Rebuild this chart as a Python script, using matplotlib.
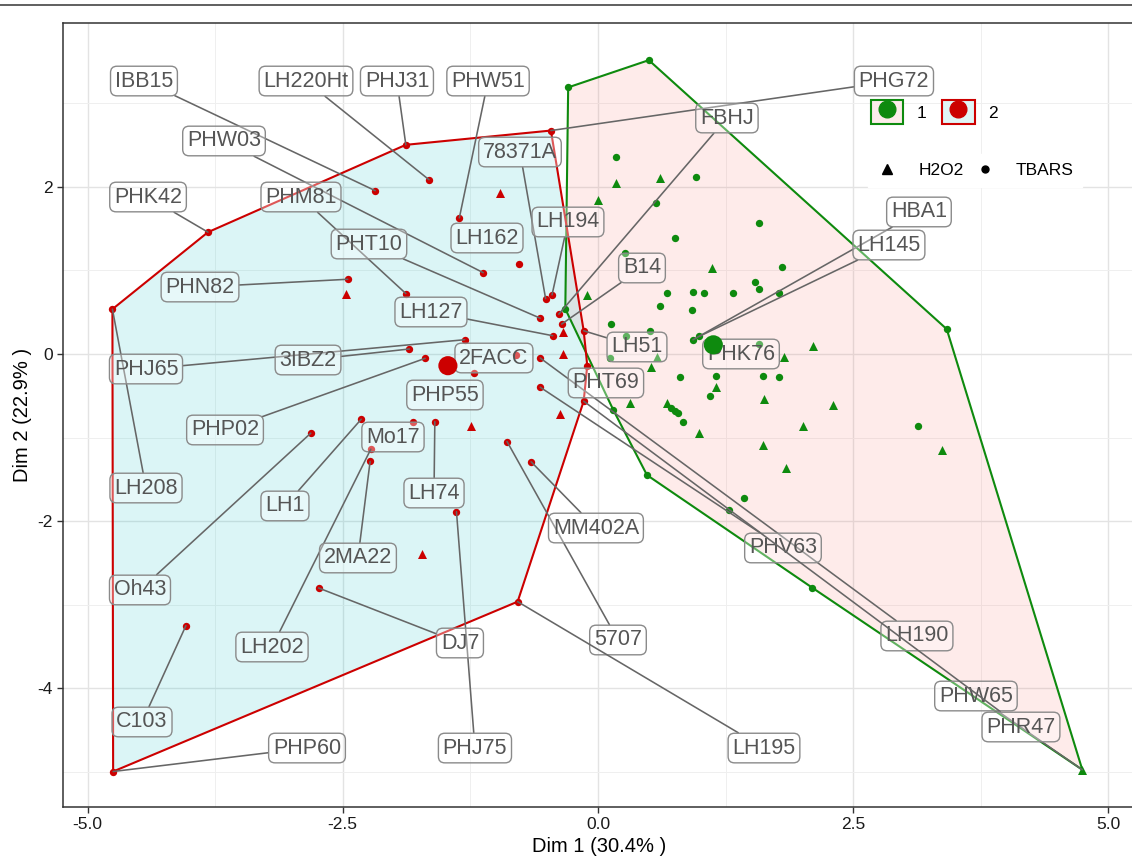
""" PCA biplot of genotypes, two clusters with convex hulls. """

import matplotlib
matplotlib.use("Agg")
import matplotlib.pyplot as plt
from matplotlib.lines import Line2D
from matplotlib.patches import Patch, Polygon
from matplotlib.legend_handler import HandlerTuple

plt.rcParams['font.family'] = ['Liberation Sans', 'DejaVu Sans']
plt.rcParams['axes.unicode_minus'] = False

# cluster 2 (red)
red_x = [-4.756, -3.820, -1.882, -1.655, -2.182, -0.461, -0.957, -1.358, -0.775, -1.124,
         -2.451, -2.469, -1.882, -0.513, -0.450, -0.566, -0.384, -0.356, -0.339, -0.443,
         -1.306, -1.847, -1.693, -1.212, -0.566, -0.800, -0.346, -0.566, -0.374, -0.140,
         -0.105, -0.140, -2.319, -2.813, -1.814, -1.598, -2.225, -2.232, -1.240, -0.891,
         -0.655, -1.386, -1.727, -2.737, -4.036, -0.787, -4.749]
red_y = [0.537, 1.459, 2.505, 2.087, 1.956, 2.676, 1.928, 1.630, 1.082, 0.974,
         0.895, 0.716, 0.724, 0.664, 0.708, 0.429, 0.477, 0.358, 0.258, 0.219,
         0.171, 0.060, -0.052, -0.231, -0.048, -0.010, 0.000, -0.398, -0.716, 0.278,
         -0.139, -0.565, -0.781, -0.948, -0.809, -0.809, -1.140, -1.287, -0.860, -1.048,
         -1.291, -1.889, -2.396, -2.802, -3.253, -2.966, -5.000]
red_shape = ['TBARS', 'TBARS', 'TBARS', 'TBARS', 'TBARS', 'TBARS', 'H2O2', 'TBARS', 'TBARS', 'TBARS',
             'TBARS', 'H2O2', 'TBARS', 'TBARS', 'TBARS', 'TBARS', 'TBARS', 'TBARS', 'H2O2', 'TBARS',
             'TBARS', 'TBARS', 'TBARS', 'TBARS', 'TBARS', 'TBARS', 'H2O2', 'TBARS', 'H2O2', 'TBARS',
             'TBARS', 'TBARS', 'TBARS', 'TBARS', 'TBARS', 'TBARS', 'TBARS', 'TBARS', 'H2O2', 'TBARS',
             'TBARS', 'TBARS', 'H2O2', 'TBARS', 'TBARS', 'TBARS', 'TBARS']
red_names = ['LH208', 'PHK42', 'PHJ31', 'LH220Ht', 'IBB15', 'PHG72', '', 'PHW51', 'LH162', 'PHW03',
             'PHN82', '', 'PHM81', '78371A', 'LH194', 'PHT10', 'FBHJ', 'B14', '', 'LH127',
             'PHJ65', '3IBZ2', 'PHP02', 'PHP55', 'LH190', '2FACC', '', 'PHV63', '', 'LH51',
             'PHT69', 'PHR47', 'LH1', 'Oh43', 'Mo17', 'LH74', 'LH202', '2MA22', '', '5707',
             'MM402A', 'PHJ75', '', 'DJ7', 'C103', 'LH195', 'PHP60']

# cluster 1 (green)
green_x = [-0.292, 0.498, 0.18, 0.18, 0.61, 0.96, 0.00, 0.57, 1.58, 0.75,
           0.26, 1.12, 1.80, 1.54, 1.58, 1.77, 1.32, 0.93, 1.04, 0.675,
           0.61, 0.92, -0.11, -0.32, 0.13, 0.27, 0.51, 0.93, 0.99, 1.58,
           2.11, 1.82, 0.12, 0.58, 0.52, 0.80, 1.16, 1.62, 1.77, 1.16,
           1.10, 1.63, 2.30, 0.31, 0.15, 0.68, 0.72, 0.75, 0.78, 0.83,
           0.99, 2.01, 3.13, 3.367, 1.62, 1.84, 1.43, 1.28, 0.48, 2.10,
           3.416, 4.744]
green_y = [3.193, 3.519, 2.36, 2.05, 2.11, 2.12, 1.84, 1.81, 1.57, 1.39,
           1.21, 1.03, 1.04, 0.86, 0.78, 0.73, 0.73, 0.74, 0.73, 0.73,
           0.58, 0.53, 0.71, 0.54, 0.36, 0.22, 0.28, 0.17, 0.21, 0.12,
           0.09, -0.04, -0.05, -0.04, -0.16, -0.28, -0.26, -0.26, -0.27, -0.40,
           -0.50, -0.54, -0.61, -0.59, -0.67, -0.59, -0.65, -0.68, -0.71, -0.81,
           -0.95, -0.86, -0.86, -1.148, -1.09, -1.36, -1.73, -1.87, -1.45, -2.80,
           0.298, -4.979]
green_shape = ['TBARS', 'TBARS', 'TBARS', 'H2O2', 'H2O2', 'TBARS', 'H2O2', 'TBARS', 'TBARS', 'TBARS',
               'TBARS', 'H2O2', 'TBARS', 'TBARS', 'TBARS', 'TBARS', 'TBARS', 'TBARS', 'TBARS', 'TBARS',
               'TBARS', 'TBARS', 'H2O2', 'TBARS', 'TBARS', 'TBARS', 'TBARS', 'TBARS', 'TBARS', 'TBARS',
               'H2O2', 'H2O2', 'TBARS', 'H2O2', 'H2O2', 'TBARS', 'TBARS', 'TBARS', 'TBARS', 'H2O2',
               'TBARS', 'H2O2', 'H2O2', 'H2O2', 'TBARS', 'H2O2', 'TBARS', 'TBARS', 'TBARS', 'TBARS',
               'H2O2', 'H2O2', 'TBARS', 'H2O2', 'H2O2', 'H2O2', 'TBARS', 'TBARS', 'TBARS', 'TBARS',
               'TBARS', 'H2O2']
green_names = [''] * len(green_x)
green_names[27] = 'HBA1'
green_names[28] = 'LH145'
green_names[29] = 'PHK76'
green_names[61] = 'PHW65'

# group mean points
mean_x = [1.13, -1.47]
mean_y = [0.11, -0.14]

dim1_pct = 30.4
dim2_pct = 22.9

# where the repelled labels ended up (data units)
label_pos = {
    'IBB15': (-4.447, 3.269), 'LH220Ht': (-2.860, 3.269), 'PHJ31': (-1.969, 3.269),
    'PHW51': (-1.077, 3.269), 'PHW03': (-3.663, 2.551), 'PHK42': (-4.407, 1.880),
    'PHM81': (-2.909, 1.880), '78371A': (-0.764, 2.419), 'LH194': (-0.294, 1.581),
    'LH162': (-1.087, 1.389), 'PHT10': (-2.243, 1.317), 'PHN82': (-3.898, 0.802),
    'LH127': (-1.636, 0.503), '3IBZ2': (-2.840, -0.072), 'PHJ65': (-4.427, -0.180),
    '2FACC': (-1.019, -0.048), 'PHP02': (-3.653, -0.910), 'PHP55': (-1.499, -0.491),
    'PHT69': (0.078, -0.347), 'LH51': (0.382, 0.084), 'B14': (0.431, 1.030),
    'FBHJ': (1.263, 2.826), 'PHG72': (2.899, 3.269), 'HBA1': (3.144, 1.701),
    'LH145': (2.850, 1.305), 'PHK76': (1.401, 0.0), 'MM402A': (-0.020, -2.084),
    '5707': (0.196, -3.425), 'PHV63': (1.812, -2.323), 'LH195': (1.626, -4.719),
    'PHJ75': (-1.205, -4.719), 'PHP60': (-2.850, -4.719), 'C103': (-4.466, -4.407),
    'DJ7': (-1.352, -3.461), 'LH202': (-3.193, -3.509), 'Oh43': (-4.486, -2.826),
    '2MA22': (-2.351, -2.443), 'LH208': (-4.427, -1.605), 'LH1': (-3.066, -1.820),
    'LH74': (-1.606, -1.665), 'Mo17': (-2.008, -0.994), 'LH190': (3.124, -3.377),
    'PHW65': (3.702, -4.096), 'PHR47': (4.143, -4.467),
}

GREEN = '#0E8A0E'
RED = '#CC0000'
FILL1 = '#F8766D'
FILL2 = '#00BFC4'
MARKERS = {'H2O2': '^', 'TBARS': 'o'}


def convex_hull(xs, ys):
    pts = sorted(set(zip(xs, ys)))

    def cross(o, a, b):
        return (a[0] - o[0]) * (b[1] - o[1]) - (a[1] - o[1]) * (b[0] - o[0])

    lower = []
    for p in pts:
        while len(lower) >= 2 and cross(lower[-2], lower[-1], p) <= 0:
            lower.pop()
        lower.append(p)
    upper = []
    for p in reversed(pts):
        while len(upper) >= 2 and cross(upper[-2], upper[-1], p) <= 0:
            upper.pop()
        upper.append(p)
    return lower[:-1] + upper[:-1]


fig = plt.figure(figsize=(11.32, 8.6), dpi=100)
ax = fig.add_axes([63 / 1132, 53 / 860, 1072 / 1132, 784 / 860])
ax.set_xlim(-5.24, 5.26)
ax.set_ylim(-5.425, 3.964)

# grid like theme_bw
ax.set_xticks([-5, -2.5, 0, 2.5, 5])
ax.set_xticklabels(['-5.0', '-2.5', '0.0', '2.5', '5.0'])
ax.set_xticks([-3.75, -1.25, 1.25, 3.75], minor=True)
ax.set_yticks([-4, -2, 0, 2])
ax.set_yticks([-5, -3, -1, 1, 3], minor=True)
ax.grid(which='major', color='#E3E3E3', lw=1.0, zorder=0)
ax.grid(which='minor', color='#EFEFEF', lw=0.7, zorder=0)
ax.set_axisbelow(True)
ax.tick_params(which='major', length=4, width=1, color='#333333', labelsize=12.5,
               labelcolor='#1a1a1a')
ax.tick_params(which='minor', length=0)
for s in ax.spines.values():
    s.set_color('#333333')
    s.set_linewidth(1.1)

# hulls
groups = [
    (green_x, green_y, green_shape, green_names, GREEN, FILL1),
    (red_x, red_y, red_shape, red_names, RED, FILL2),
]
for xs, ys, shapes, names, col, fill in groups:
    hull = convex_hull(xs, ys)
    ax.add_patch(Polygon(hull, closed=True, facecolor=fill, alpha=0.14,
                         edgecolor='none', zorder=1))
for xs, ys, shapes, names, col, fill in groups:
    hull = convex_hull(xs, ys)
    ax.add_patch(Polygon(hull, closed=True, facecolor='none', edgecolor=col,
                         lw=1.5, zorder=2))

# points
for xs, ys, shapes, names, col, fill in groups:
    for shp, mk in MARKERS.items():
        px = [x for x, s in zip(xs, shapes) if s == shp]
        py = [y for y, s in zip(ys, shapes) if s == shp]
        ax.scatter(px, py, marker=mk, s=42 if mk == '^' else 28, color=col,
                   linewidths=0, zorder=3)

ax.scatter(mean_x, mean_y, s=190, color=[GREEN, RED], linewidths=0, zorder=6)

# repelled labels
fig.canvas.draw()
for xs, ys, shapes, names, col, fill in groups:
    for x, y, name in zip(xs, ys, names):
        if not name:
            continue
        lx, ly = label_pos[name]
        p0 = ax.transData.transform((x, y))
        p1 = ax.transData.transform((lx, ly))
        dist = ((p0[0] - p1[0]) ** 2 + (p0[1] - p1[1]) ** 2) ** 0.5
        arrow = None
        if dist > 45:
            arrow = dict(arrowstyle='-', color='#666666', lw=1.15,
                         shrinkA=0, shrinkB=0)
        ax.annotate(name, xy=(x, y), xytext=(lx, ly), textcoords='data',
                    ha='center', va='center', fontsize=15.5, color='#555555',
                    bbox=dict(boxstyle='round,pad=0.2,rounding_size=0.3',
                              fc=(1, 1, 1, 0.35), ec='#8a8a8a', lw=1.0),
                    arrowprops=arrow, zorder=5)

# legends
h1 = (Patch(facecolor='#FDECEA', edgecolor=GREEN, lw=1.5),
      Line2D([], [], ls='none', marker='o', ms=12, color=GREEN))
h2 = (Patch(facecolor='#E0F5F6', edgecolor=RED, lw=1.5),
      Line2D([], [], ls='none', marker='o', ms=12, color=RED))
leg1 = ax.legend([h1, h2], ['1', '2'], ncol=2, loc='center',
                 bbox_to_anchor=(0.813, 0.886), frameon=False, fontsize=12.5,
                 handlelength=1.85, handleheight=1.75, handletextpad=0.8,
                 columnspacing=0.9, handler_map={tuple: HandlerTuple(ndivide=1)})
ax.add_artist(leg1)

h3 = Line2D([], [], ls='none', marker='^', ms=7, color='black')
h4 = Line2D([], [], ls='none', marker='o', ms=5, color='black')
leg2 = ax.legend([h3, h4], ['H2O2', 'TBARS'], ncol=2, loc='center',
                 bbox_to_anchor=(0.851, 0.812), frameon=True, framealpha=1,
                 facecolor='white', edgecolor='white', fancybox=False,
                 fontsize=12.5, handlelength=1.2, handletextpad=1.2,
                 columnspacing=0.6, borderpad=0.5)

ax.set_xlabel('Dim 1 (%.1f%% )' % dim1_pct, fontsize=14.5)
ax.set_ylabel('Dim 2 (%.1f%% )' % dim2_pct, fontsize=14.5)
ax.xaxis.set_label_coords(0.5, -0.038)
ax.yaxis.set_label_coords(-0.029, 0.5)

# thin rule across the top of the image
fig.add_artist(Line2D([0, 1], [1 - 5 / 860, 1 - 5 / 860], color='#444444', lw=1.2))

plt.savefig('out.png', dpi=100)
plt.close()
